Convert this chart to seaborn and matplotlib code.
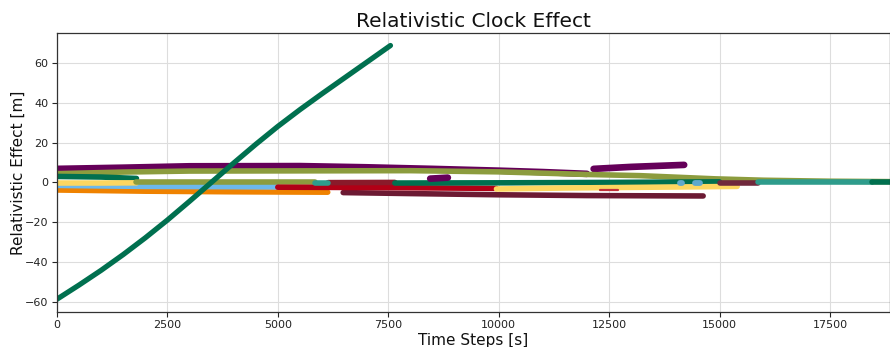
import matplotlib
matplotlib.use("Agg")
import matplotlib.pyplot as plt
import seaborn as sns
import pandas as pd

sns.set_style("white")
plt.rcParams['font.family'] = ['DejaVu Sans']

# ---- data ----
# rising curve satellite
g_curve_t = [0, 500, 1000, 1500, 2000, 2500, 3000, 3500, 4000, 4500, 5000, 5500, 6000, 6500, 7000, 7550]
g_curve_v = [-58.6, -51.5, -44.1, -36.2, -27.8, -18.9, -9.5, 0.1, 9.7, 19.1, 28.1, 36.5, 44.5, 52.3, 60.1, 68.7]

purple_a_t = [0, 1500, 3000, 5500, 7000, 8500, 10000, 11000, 12000]
purple_a_v = [6.8, 7.4, 8.1, 8.2, 7.6, 6.8, 5.9, 5.2, 4.3]
purple_b_t = [12150, 13000, 14200]
purple_b_v = [6.8, 7.8, 8.8]
purple_c_t = [8450, 8850]
purple_c_v = [1.9, 2.4]

olive_a_t = [0, 1500, 3000, 8000, 10000, 12000, 13200, 14900, 16000, 17500, 18860]
olive_a_v = [4.4, 5.2, 5.7, 5.9, 5.3, 4.0, 3.4, 1.8, 1.1, 0.6, 0.4]
olive_b_t = [1800, 5850]
olive_b_v = [0.1, 0.1]

green_a_t = [0, 1000, 1800]
green_a_v = [3.0, 2.7, 2.0]
green_b_t = [7650, 10000, 12500, 15000]
green_b_v = [-0.3, -0.2, 0.0, 0.3]
green_c_t = [18450, 18860]
green_c_v = [0.2, 0.2]

yellow_a_t = [0, 1000, 1800]
yellow_a_v = [-0.3, -0.3, -0.2]
yellow_b_t = [9950, 11500, 13000, 14500, 15400]
yellow_b_v = [-3.3, -2.8, -2.5, -2.2, -2.0]

blue_a_t = [0, 2000, 4980]
blue_a_v = [-1.5, -2.0, -2.2]
blue_b_t = [14100, 14150]
blue_b_v = [-0.1, -0.1]
blue_c_t = [14450, 14550]
blue_c_v = [-0.1, -0.1]

orange_t = [0, 2000, 4000, 6130]
orange_v = [-3.8, -4.4, -4.7, -4.9]

red_a_t = [5000, 7500, 9950]
red_a_v = [-2.4, -2.6, -3.0]
red_b_t = [12300, 12700]
red_b_v = [-4.0, -4.0]

maroon_a_t = [6480, 8000, 10000, 12000, 14630]
maroon_a_v = [-5.1, -5.6, -6.2, -6.6, -6.8]
maroon_b_t = [6140, 7650]
maroon_b_v = [-0.1, 0.0]
maroon_c_t = [15010, 15870]
maroon_c_v = [-0.4, -0.4]

teal_a_t = [5850, 6130]
teal_a_v = [-0.2, -0.2]
teal_b_t = [15870, 17000, 18450]
teal_b_v = [0.3, 0.3, 0.3]

series = [
    ("S02", purple_a_t, purple_a_v, "#650059", 4.8),
    ("S03", purple_b_t, purple_b_v, "#650059", 4.8),
    ("S01", olive_a_t, olive_a_v, "#8c9c3e", 4.0),
    ("S04", green_a_t, green_a_v, "#00704f", 4.0),
    ("S05", orange_t, orange_v, "#ef8200", 4.0),
    ("S06", blue_a_t, blue_a_v, "#6cb8ec", 4.0),
    ("S07", yellow_a_t, yellow_a_v, "#fcd660", 4.0),
    ("S08", olive_b_t, olive_b_v, "#8c9c3e", 4.0),
    ("S09", maroon_a_t, maroon_a_v, "#6c1a33", 4.0),
    ("S10", red_a_t, red_a_v, "#b10016", 4.0),
    ("S11", maroon_b_t, maroon_b_v, "#8a1a2a", 4.0),
    ("S12", teal_a_t, teal_a_v, "#2e9c8c", 4.0),
    ("S13", green_b_t, green_b_v, "#00704f", 4.0),
    ("S14", yellow_b_t, yellow_b_v, "#fcd660", 4.0),
    ("S15", red_b_t, red_b_v, "#c0303a", 1.6),
    ("S16", purple_c_t, purple_c_v, "#650059", 4.8),
    ("S17", blue_b_t, blue_b_v, "#5fa8cc", 4.2),
    ("S18", blue_c_t, blue_c_v, "#5fa8cc", 4.2),
    ("S19", maroon_c_t, maroon_c_v, "#70283c", 4.0),
    ("S20", teal_b_t, teal_b_v, "#2e9c8c", 4.0),
    ("S21", green_c_t, green_c_v, "#00704f", 4.0),
    ("S22", g_curve_t, g_curve_v, "#00704f", 3.8),
]

fig = plt.figure(figsize=(8.9, 3.47), dpi=100)
ax = fig.add_axes([0.064, 0.101, 0.936, 0.804])

for name, t, v, color, lw in series:
    df = pd.DataFrame({"t": t, "v": v})
    sns.lineplot(data=df, x="t", y="v", ax=ax, color=color, linewidth=lw,
                 solid_capstyle="round", solid_joinstyle="round",
                 estimator=None, sort=True)

ax.set_xlim(0, 18860)
ax.set_ylim(-65, 75)
ax.set_xticks([0, 2500, 5000, 7500, 10000, 12500, 15000, 17500])
ax.set_yticks([-60, -40, -20, 0, 20, 40, 60])
ax.grid(True, color="#dddddd", linewidth=0.8)
ax.set_axisbelow(True)
for s in ax.spines.values():
    s.set_color("#333333")
    s.set_linewidth(0.9)
ax.tick_params(axis="both", labelsize=8, length=3.5, width=0.8, direction="out",
               bottom=True, left=True, pad=2.5, labelcolor="#222222")
ax.set_title("Relativistic Clock Effect", fontsize=14.5, color="#111111", pad=4)
ax.set_xlabel("Time Steps [s]", fontsize=11, labelpad=2, color="#111111")
ax.set_ylabel("Relativistic Effect [m]", fontsize=11, labelpad=-0.5, color="#111111")

fig.savefig("out.png", dpi=100)
